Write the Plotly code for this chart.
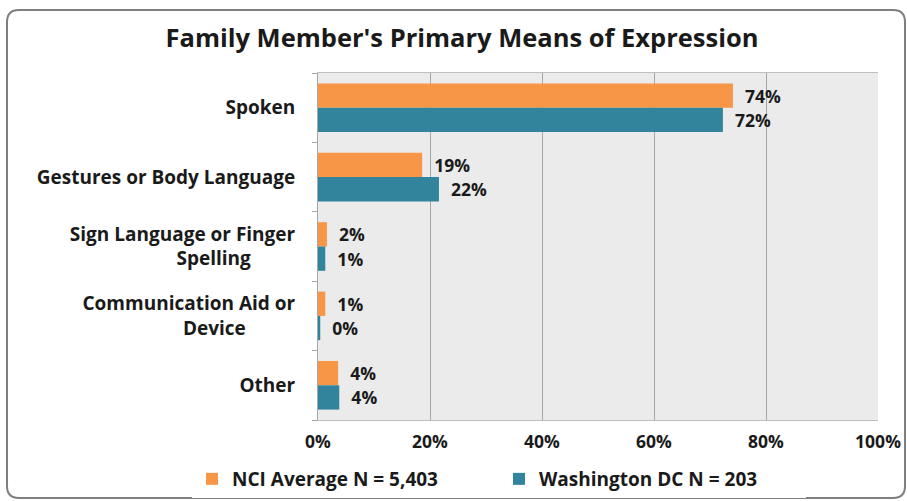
import plotly.graph_objects as go

categories = ["Spoken", "Gestures or Body Language", "Sign Language or Finger Spelling",
              "Communication Aid or Device", "Other"]
tick_text = ["Spoken", "Gestures or Body Language",
             "Sign Language or Finger<br>Spelling" + "\u00a0" * 9,
             "Communication Aid or<br>Device" + "\u00a0" * 10,
             "Other"]
nci_avg = [74.1, 18.6, 1.6, 1.3, 3.6]
washington_dc = [72.3, 21.6, 1.3, 0.4, 3.8]
series_names = ["NCI Average N = 5,403", "Washington DC N = 203"]
colors = ["#F79646", "#31849B"]

FONT = "Open Sans"
INK = "#1a1a1a"

W, H = 907, 501

fig = go.Figure()
for name, vals, col in zip(series_names, [nci_avg, washington_dc], colors):
    fig.add_trace(go.Bar(
        y=categories, x=vals, name=name, orientation="h",
        marker=dict(color=col, line=dict(width=0)),
        text=[f"\u00a0\u00a0{round(v)}%" for v in vals],
        textposition="outside", cliponaxis=False,
        textfont=dict(family=FONT, size=17.5, color=INK, weight="bold"),
    ))

# plot area in pixels
L, R, T, B = 318, 878, 73, 420
def px(x): return (x - L) / (R - L)
def py(y): return (B - y) / (B - T)

# outer rounded frame
x0, x1, y0, y1, r = 7, 905, 10, 498, 12
path = (f"M {px(x0)},{py(y1 - r)} L {px(x0)},{py(y0 + r)} "
        f"Q {px(x0)},{py(y0)} {px(x0 + r)},{py(y0)} L {px(x1 - r)},{py(y0)} "
        f"Q {px(x1)},{py(y0)} {px(x1)},{py(y0 + r)} L {px(x1)},{py(y1 - r)} "
        f"Q {px(x1)},{py(y1)} {px(x1 - r)},{py(y1)} L {px(x0 + r)},{py(y1)} "
        f"Q {px(x0)},{py(y1)} {px(x0)},{py(y1 - r)} Z")

fig.update_layout(
    width=W, height=H,
    margin=dict(l=L, r=W - R, t=T, b=H - B, autoexpand=False),
    barmode="group", bargap=0.3, bargroupgap=0,
    plot_bgcolor="#EBEBEB", paper_bgcolor="white",
    title=dict(text="<b>Family Member's Primary Means of Expression</b>",
               x=462 / W, xanchor="center", y=1 - 38 / H, yanchor="middle",
               font=dict(family=FONT, size=25.5, color=INK)),
    xaxis=dict(range=[0, 100], dtick=20, ticksuffix="%", showgrid=True,
               gridcolor="#A6A6A6", gridwidth=1, zeroline=False,
               showline=True, linecolor="#BFBFBF", mirror=True,
               tickfont=dict(family=FONT, size=17.5, color=INK, weight="bold"),
               ticklabelstandoff=6, automargin=False),
    yaxis=dict(autorange="reversed", tickvals=categories, ticktext=tick_text,
               showline=True, linecolor="#A6A6A6", ticks="outside",
               tickson="boundaries", ticklen=5, tickcolor="#A6A6A6",
               tickfont=dict(family=FONT, size=19, color=INK, weight="bold"),
               ticklabelstandoff=18, automargin=False),
    legend=dict(orientation="h", x=px(192), xanchor="left", y=py(479), yanchor="middle",
                font=dict(family=FONT, size=19, color=INK, weight="bold"),
                itemwidth=30, entrywidth=262, traceorder="normal"),
    shapes=[dict(type="path", xref="paper", yref="paper", path=path,
                 line=dict(color="#7F7F7F", width=2), layer="below")],
)

fig.write_html("out.html", config={"displayModeBar": False},
               post_script="document.body.style.margin='0';document.body.style.overflow='hidden';")
